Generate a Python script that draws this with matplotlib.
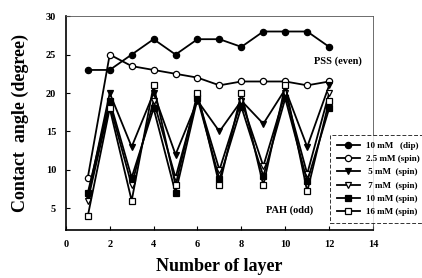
import matplotlib
matplotlib.use("Agg")
import matplotlib.pyplot as plt

layers = [1, 2, 3, 4, 5, 6, 7, 8, 9, 10, 11, 12]
dip10 = [23, 23, 25, 27, 25, 27, 27, 26, 28, 28, 28, 26]
spin25 = [9, 25, 23.5, 23, 22.5, 22, 21, 21.5, 21.5, 21.5, 21, 21.5]
spin5 = [6.5, 20, 13, 20, 12, 19, 15, 19, 16, 20.5, 13, 21]
spin7 = [6, 18.5, 8, 19, 9, 19.5, 10, 19, 10.5, 20, 9.5, 20]
spin10 = [7, 19, 9, 18, 7, 19.3, 8.8, 18.2, 9.2, 19.3, 8.5, 18]
spin16 = [4, 18, 6, 21, 8, 20, 8, 20, 8, 21, 7.2, 19]
labels = ["10 mM   (dip)", "2.5 mM (spin)", " 5 mM  (spin)",
          " 7 mM  (spin)", "10 mM (spin)", "16 mM (spin)"]
xticks = [0, 2, 4, 6, 8, 10, 12, 14]
yticks = [5, 10, 15, 20, 25, 30]

plt.rcParams['font.family'] = ['Liberation Serif', 'DejaVu Serif']

fig = plt.figure(figsize=(4.22, 2.78), dpi=100)
ax = fig.add_axes([0.156, 0.173, 0.728, 0.769])

series = [dip10, spin25, spin5, spin7, spin10, spin16]
markers = ['o', 'o', 'v', 'v', 's', 's']
faces = ['black', 'white', 'black', 'white', 'black', 'white']
for ys, m, fc, lab in zip(series, markers, faces, labels):
    ax.plot(layers, ys, color='black', lw=1.3, marker=m, markersize=4.5,
            markerfacecolor=fc, markeredgecolor='black', markeredgewidth=0.9,
            label=lab)

ax.set_xlim(0, 14)
ax.set_ylim(2.2, 30)
ax.set_xticks(xticks)
ax.set_yticks(yticks)
ax.tick_params(direction='in', length=3, width=0.8, labelsize=7.5, pad=7)
for t in ax.get_xticklabels() + ax.get_yticklabels():
    t.set_fontweight('bold')
ax.spines['left'].set_linewidth(1.2)
ax.spines['bottom'].set_linewidth(1.2)
ax.spines['top'].set_linewidth(0.6)
ax.spines['right'].set_linewidth(0.6)
ax.spines['top'].set_color('#555555')
ax.spines['right'].set_color('#555555')

ax.set_xlabel("Number of layer", fontsize=13, fontweight='bold', labelpad=7)
ax.set_ylabel("Contact  angle (degree)", fontsize=13, fontweight='bold', labelpad=12)

ax.text(12.4, 24.2, "PSS (even)", fontsize=7.5, fontweight='bold', ha='center', va='center')
ax.text(10.2, 4.8, "PAH (odd)", fontsize=7.5, fontweight='bold', ha='center', va='center')

leg = ax.legend(loc='upper left', bbox_to_anchor=(0.772, 0.53), bbox_transform=fig.transFigure,
                fontsize=6.5, frameon=True, fancybox=False, borderpad=0.7,
                handlelength=2.6, labelspacing=0.55, handletextpad=0.6)
leg.get_frame().set_edgecolor('black')
leg.get_frame().set_linestyle((0, (4, 2)))
leg.get_frame().set_linewidth(0.7)
for t in leg.get_texts():
    t.set_fontweight('bold')

fig.savefig("out.png", dpi=100)
